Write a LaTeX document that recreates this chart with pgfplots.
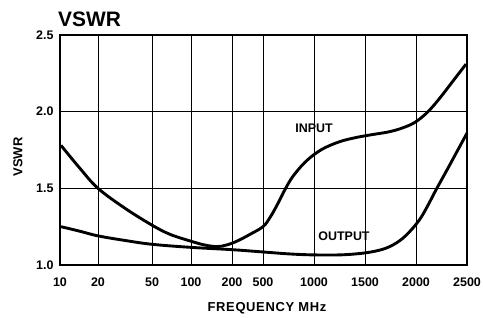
\documentclass[border=0pt]{standalone}
\usepackage{fontspec}
\setmainfont{Liberation Sans}
\usepackage{pgfplots}
\pgfplotsset{compat=1.18}
\begin{document}
\begin{tikzpicture}
\useasboundingbox (-60bp,-53bp) rectangle (423bp,265bp);
\begin{axis}[
  at={(0,0)}, anchor=south west,
  scale only axis, width=407bp, height=230bp,
  xmin=60, xmax=467, ymin=1.0, ymax=2.5,
  xtick={60,98,152,191,232,263,314,365,416,467},
  xticklabels={10,20,50,100,200,500,1000,1500,2000,2500},
  ytick={1.0,1.5,2.0,2.5},
  yticklabels={1.0,1.5,2.0,2.5},
  major tick length=0pt,
  grid=major,
  major grid style={black, line width=0.9pt},
  axis line style={black, line width=1.4pt},
  tick label style={font=\bfseries\fontsize{12.5}{14}\selectfont},
  xticklabel style={yshift=-9bp},
  yticklabel style={xshift=-3bp},
  /pgf/number format/assume math mode=true,
  clip=false,
]
\addplot[black, line width=2.9pt, smooth, tension=0.6] coordinates {
(61,1.78) (80,1.63) (98,1.50) (125,1.37) (152,1.26) (170,1.20) (191,1.155)
(205,1.13) (217,1.12) (225,1.128) (232,1.142) (240,1.165) (250,1.20) (263,1.25)
(270,1.31) (277,1.39) (284,1.48) (291,1.56) (298,1.62) (305,1.67) (314,1.72)
(325,1.765) (340,1.805) (355,1.83) (370,1.848) (390,1.87) (405,1.90)
(416,1.935) (428,2.0) (440,2.09) (453,2.20) (466,2.31)
};
\addplot[black, line width=2.9pt, smooth, tension=0.6] coordinates {
(61,1.25) (80,1.22) (98,1.19) (125,1.16) (152,1.135) (191,1.115)
(232,1.10) (263,1.085) (290,1.072) (313,1.066) (340,1.066) (360,1.075)
(375,1.09) (388,1.115) (400,1.16) (410,1.22) (420,1.30) (428,1.39)
(436,1.49) (447,1.62) (457,1.74) (467,1.86)
};
\node[font=\bfseries\fontsize{12.5}{14}\selectfont] at (axis cs:314,1.89) {INPUT};
\node[font=\bfseries\fontsize{12.5}{14}\selectfont] at (axis cs:344,1.19) {OUTPUT};
\end{axis}
\node[anchor=west, font=\bfseries\fontsize{21}{24}\selectfont, inner sep=0pt] at (-2bp,246bp) {VSWR};
\node[rotate=90, font=\bfseries\fontsize{13}{15}\selectfont, inner sep=0pt] at (-42bp,108bp) {VSWR};
\node[font=\bfseries\fontsize{13}{15}\selectfont\addfontfeature{LetterSpace=5}, inner sep=0pt] at (207bp,-43bp) {FREQUENCY MHz};
\end{tikzpicture}
\end{document}
